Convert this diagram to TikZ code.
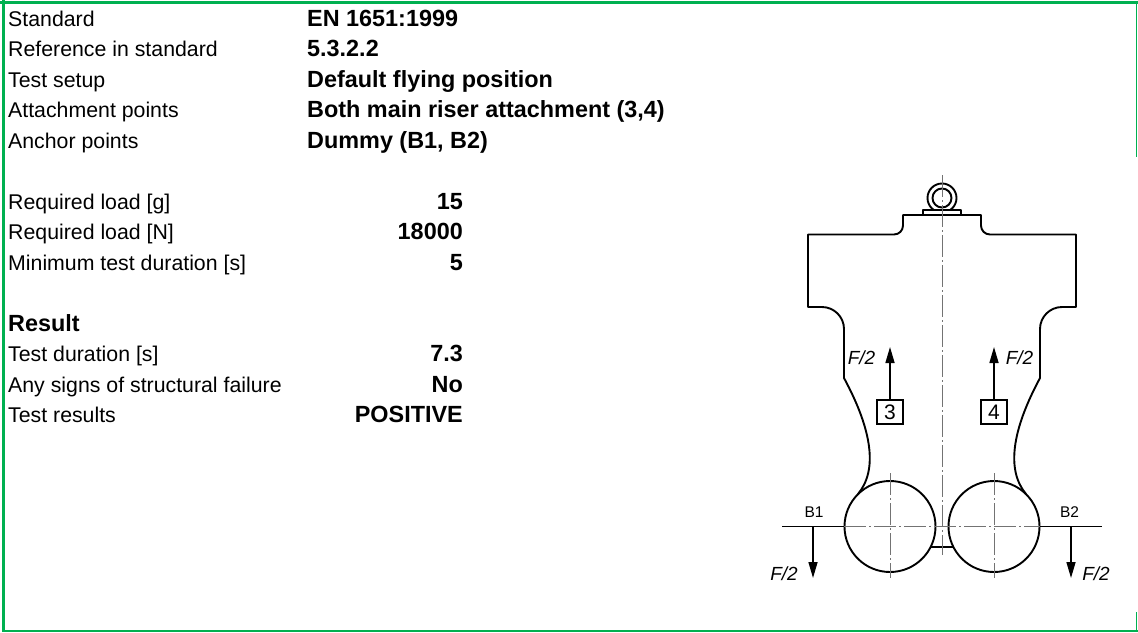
\documentclass[tikz,border=0pt]{standalone}
\usepackage{fontspec}
\setmainfont{Liberation Sans}
\usetikzlibrary{arrows.meta}
\definecolor{xlgreen}{RGB}{0,176,80}
\begin{document}
\begin{tikzpicture}[x=1pt,y=-1pt,
  lab/.style={anchor=base west, inner sep=0pt, font=\fontsize{21.3}{24}\selectfont},
  val/.style={anchor=base west, inner sep=0pt, font=\fontsize{23.4}{26}\selectfont\bfseries},
  num/.style={anchor=base east, inner sep=0pt, font=\fontsize{23.4}{26}\selectfont\bfseries},
  frame/.style={xlgreen, line width=2.5pt},
  outline/.style={line width=1.9pt, black, line join=round},
  axisline/.style={line width=1pt, black!55, dash pattern=on 22pt off 3pt on 2pt off 3pt},
  solidaxis/.style={line width=1.5pt, black},
  force/.style={line width=1.5pt, -{Triangle[length=16pt,width=9pt]}},
  flab/.style={inner sep=0pt, font=\fontsize{19}{20}\selectfont\itshape},
  blab/.style={inner sep=0pt, font=\fontsize{15.5}{17}\selectfont},
  numbox/.style={draw, line width=1.2pt, minimum width=26pt, minimum height=24pt, inner sep=0pt, font=\fontsize{21}{21}\selectfont}
]
\useasboundingbox (0,0) rectangle (1138,632);
% frame
\draw[frame] (0,2.5) -- (1138,2.5);
\draw[frame] (3.5,0) -- (3.5,632);
\draw[xlgreen, line width=2pt] (2,630.5) -- (1138,630.5);
\draw[xlgreen, line width=1.5pt] (1136.5,1) -- (1136.5,157);
\draw[xlgreen, line width=1.5pt] (1136.5,612) -- (1136.5,631);

% text table
\node[lab] (l0) at (8,26) {Standard};
\node[val] (v0) at (307,26) {EN 1651:1999};
\node[lab] (l1) at (8,56.5) {Reference in standard};
\node[val] (v1) at (307,56.5) {5.3.2.2};
\node[lab] (l2) at (8,87) {Test setup};
\node[val] (v2) at (307,87) {Default flying position};
\node[lab] (l3) at (8,117.5) {Attachment points};
\node[val] (v3) at (307,117.5) {Both main riser attachment (3,4)};
\node[lab] (l4) at (8,148) {Anchor points};
\node[val] (v4) at (307,148) {Dummy (B1, B2)};

\node[lab] (l6) at (8,209) {Required load [g]};
\node[num] (v6) at (463,209) {15};
\node[lab] (l7) at (8,239.5) {Required load [N]};
\node[num] (v7) at (463,239.5) {18000};
\node[lab] (l8) at (8,270) {Minimum test duration [s]};
\node[num] (v8) at (463,270) {5};

\node[val] (l10) at (8,331) {Result};
\node[lab] (l11) at (8,361.5) {Test duration [s]};
\node[num] (v11) at (463,361.5) {7.3};
\node[lab] (l12) at (8,392) {Any signs of structural failure};
\node[num] (v12) at (463,392) {No};
\node[lab] (l13) at (8,422.5) {Test results};
\node[num] (v13) at (463,422.5) {POSITIVE};

% dummy outline
\draw[outline] (858,494) .. controls (878,470) and (872,430) .. (844,378)
  -- (844,329) .. controls (844,316.9) and (834.1,307) .. (822,307)
  -- (808,307) -- (808,234.5) -- (894,234.5)
  .. controls (899,234.5) and (903,230.5) .. (903,225.5) -- (903,215)
  -- (981,215) -- (981,225.5) .. controls (981,230.5) and (985,234.5) .. (990,234.5)
  -- (1076,234.5) -- (1076,307) -- (1062,307)
  .. controls (1049.9,307) and (1040,316.9) .. (1040,329)
  -- (1040,378) .. controls (1012,430) and (1006,470) .. (1026,494);
% legs
\draw[outline] (890,526.5) circle[radius=45.5];
\draw[outline] (994,526.5) circle[radius=45.5];
\draw[outline] (930.6,547) -- (953.4,547);
% eye
\draw[outline] (942,198) circle[radius=14.5];
\draw[outline] (942,198) circle[radius=9.5];
\draw[outline, fill=white] (923,210) rectangle (961,215);

% axes
\draw[axisline] (942,175) -- (942,555);
\draw[axisline] (890,473) -- (890,578);
\draw[axisline] (994,473) -- (994,578);
\draw[axisline] (844,526.5) -- (1040,526.5);
\coordinate (hl) at (782,526.5);
\coordinate (hl2) at (844,526.5);
\coordinate (hr2) at (1040,526.5);
\coordinate (hr) at (1102,526.5);
\draw[solidaxis] (hl) -- (hl2);
\draw[solidaxis] (hr2) -- (hr);

% attachment points
\node[numbox] (b3) at (890,412) {3};
\node[numbox] (b4) at (994,412) {4};
\coordinate (t3) at (890,347);
\coordinate (t4) at (994,347);
\draw[force] (b3.north) -- (t3);
\draw[force] (b4.north) -- (t4);
\node[flab] (f3) at (861.5,357.5) {F/2};
\node[flab] (f4) at (1019.5,357.5) {F/2};

% anchor points
\coordinate (a1) at (813,526.5);
\coordinate (a2) at (1071,526.5);
\coordinate (d1) at (813,578);
\coordinate (d2) at (1071,578);
\draw[force] (a1) -- (d1);
\draw[force] (a2) -- (d2);
\node[blab] (lb1) at (814,512) {B1};
\node[blab] (lb2) at (1069.5,512) {B2};
\node[flab] (f1) at (784,573.5) {F/2};
\node[flab] (f2) at (1096,574) {F/2};
\end{tikzpicture}
\end{document}
